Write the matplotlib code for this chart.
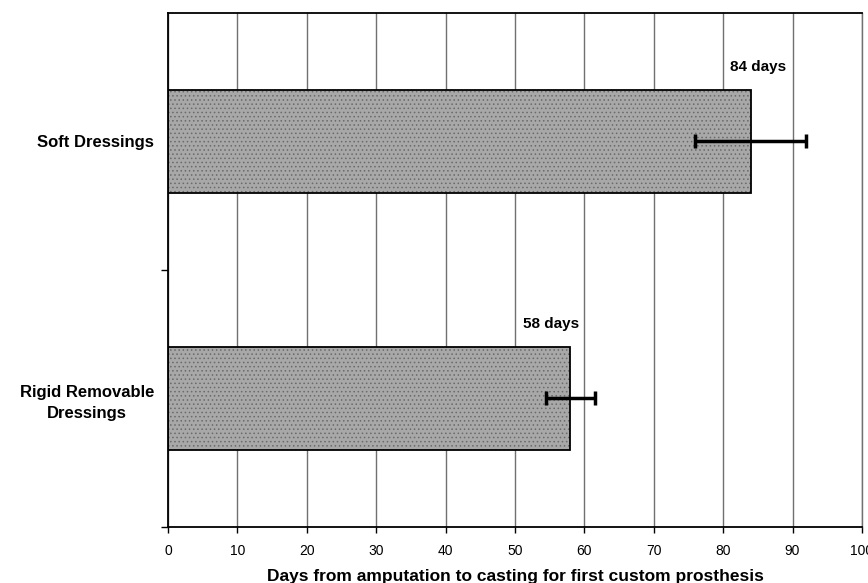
import matplotlib.pyplot as plt
from matplotlib import font_manager
from matplotlib.ticker import FixedLocator

plt.rcParams["font.family"] = ["Liberation Sans", "DejaVu Sans"]
plt.rcParams["hatch.linewidth"] = 0.6

categories = ["Rigid Removable\nDressings", "Soft Dressings"]
days = [58, 84]
errors = [3.5, 8]
value_labels = ["58 days", "84 days"]
label_x = [51.2, 81.0]
x_ticks = [0, 10, 20, 30, 40, 50, 60, 70, 80, 90, 100]

installed = {f.name for f in font_manager.fontManager.ttflist}
tick_family = ["Liberation Sans Narrow"] if "Liberation Sans Narrow" in installed else ["Liberation Sans"]

fig = plt.figure(figsize=(8.68, 5.83), dpi=100)
ax = fig.add_axes([0.1935, 0.096, 0.7995, 0.882])

pos = list(range(len(categories)))
# grey fill with a faint dotted texture, then the black outline on top
ax.barh(pos, days, height=0.40, color="#a8a8a8", edgecolor="#6a6a6a", linewidth=0,
        hatch="....", zorder=2)
ax.barh(pos, days, height=0.40, fill=False, edgecolor="black", linewidth=1.3, zorder=2)
ax.errorbar(days, pos, xerr=errors, fmt="none", ecolor="black", elinewidth=2.5,
            capsize=5, capthick=2.5, zorder=3)

for p, x, lab in zip(pos, label_x, value_labels):
    ax.text(x, p + 0.29, lab, ha="left", va="center", fontsize=11, fontweight="bold")

ax.set_xlim(0, 100)
ax.set_ylim(-0.5, 1.5)
ax.set_xticks(x_ticks)
ax.set_xticklabels([str(t) for t in x_ticks], fontsize=10, family=tick_family)
ax.tick_params(axis="x", length=4, width=1, pad=8)
ax.set_yticks(pos)
ax.set_yticklabels(categories, fontsize=12, fontweight="bold", ha="right",
                   multialignment="center", linespacing=1.5)
ax.tick_params(axis="y", which="major", length=0, pad=10)
ax.yaxis.set_minor_locator(FixedLocator([-0.5, 0.5]))
ax.tick_params(axis="y", which="minor", length=5, width=1)

ax.grid(axis="x", color="#707070", linewidth=1, zorder=0)
ax.set_axisbelow(True)
for side in ["left", "bottom", "top"]:
    ax.spines[side].set_linewidth(1.3)
ax.spines["right"].set_color("#707070")
ax.spines["right"].set_linewidth(1)

ax.set_xlabel("Days from amputation to casting for first custom prosthesis",
              fontsize=12.5, fontweight="bold", labelpad=8)

fig.savefig("out.png", dpi=100)
